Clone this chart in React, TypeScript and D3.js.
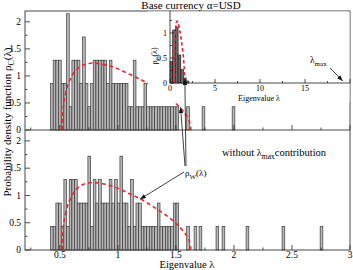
import React from "react";
import * as d3 from "d3";

// histogram of eigenvalues, bins of width 0.023 starting at 0.42 (counts; 1 count = 0.43 density)
const binStart = 0.42;
const binWidth = 0.023;
const countDensity = 0.43;
const topCounts = [
  2, 3, 3, 3, 2, 2, 5, 1, 3, 3, 3, 2, 4, 2, 1, 2, 3, 3, 3, 3, 3, 2, 3, 2, 2, 2,
  2, 2, 2, 1, 1, 3, 1, 1, 1, 2, 1, 1, 1, 1, 1, 1, 1, 1, 1, 1, 1, 1, 0, 0, 0, 1,
];
const bottomCounts = [
  1, 1, 2, 2, 1, 3, 1, 3, 3, 3, 2, 2, 2, 2, 4, 1, 3, 2, 3, 2, 2, 2, 3, 2, 3, 2,
  4, 2, 2, 1, 3, 1, 2, 2, 1, 1, 1, 1, 1, 1, 2, 1, 1, 1, 1, 1, 2, 2, 0, 0, 0, 1,
];
// isolated eigenvalues past the bulk (left edge of bar, one count each)
const topTail = [1.726, 1.985];
const bottomTail = [1.657, 1.7, 1.846, 1.898, 2.105, 2.415, 2.743];

// Marchenko-Pastur density rho_W(lambda)
const mpLambda = [0.52, 0.53, 0.55, 0.6, 0.65, 0.7, 0.75, 0.8, 0.85, 0.9, 1.0, 1.1, 1.2, 1.3, 1.4, 1.5, 1.55, 1.6, 1.62, 1.63];
const mpDensity = [0, 0.41, 0.67, 0.98, 1.13, 1.2, 1.23, 1.24, 1.22, 1.2, 1.13, 1.03, 0.93, 0.8, 0.66, 0.49, 0.38, 0.23, 0.13, 0];

// inset histogram (full spectrum)
const insetStart = [0, 0.3, 0.6, 0.9, 1.2, 1.5, 1.8];
const insetDensity = [0.43, 1.06, 1.12, 0.56, 0.27, 0.1, 0.04];
const insetWidth = 0.3;
const lambdaMax = 19.2;

const xTickLabels = [0.5, 1, 1.5, 2, 2.5, 3];
const yTickLabels = [0, 0.5, 1, 1.5, 2];
const insetXTicks = [0, 5, 10, 15];
const insetYTicks = [0, 0.5, 1];

const W = 353;
const H = 270;
const FONT = "'Liberation Serif', 'DejaVu Serif', serif";
const RED = "#ee2430";

const x = d3.scaleLinear().domain([0.2, 3]).range([25, 350]);
const yTop = d3.scaleLinear().domain([0, 2.2]).range([130, 11]);
const yBot = d3.scaleLinear().domain([0, 2.2]).range([250, 130]);
const xIn = d3.scaleLinear().domain([0, 20]).range([170, 350]);
const yIn = d3.scaleLinear().domain([0, 1.44]).range([83, 11]);

const toBars = (counts: number[], tail: number[]) => [
  ...counts.map((c, i) => ({ x0: binStart + i * binWidth, d: c * countDensity })),
  ...tail.map((l) => ({ x0: l, d: countDensity })),
].filter((b) => b.d > 0);

const mpPoints: [number, number][] = mpLambda.map((l, i) => [l, mpDensity[i]]);

const Panel = ({ y, counts, tail, labels }: any) => {
  const bars = toBars(counts, tail);
  const line = d3.line<[number, number]>().x((d) => x(d[0])).y((d) => y(d[1])).curve(d3.curveMonotoneX);
  const y0 = y(0);
  return (
    <g>
      {bars.map((b, i) => (
        <rect key={i} x={x(b.x0)} y={y(b.d)} width={x(b.x0 + binWidth) - x(b.x0)} height={y0 - y(b.d)}
          fill="#b8b8b8" stroke="#3a3a3a" strokeWidth={0.7} />
      ))}
      <path d={line(mpPoints) || ""} fill="none" stroke={RED} strokeWidth={1.6} strokeDasharray="4,3" />
      {d3.range(0.25, 3.01, 0.25).map((t) => {
        const major = Math.abs(t * 2 - Math.round(t * 2)) < 1e-6;
        return <line key={"x" + t} x1={x(t)} x2={x(t)} y1={y0} y2={y0 - (major ? 5 : 2.5)} stroke="#222" strokeWidth={0.8} />;
      })}
      {d3.range(0, 2.01, 0.25).map((t) => {
        const major = Math.abs(t * 2 - Math.round(t * 2)) < 1e-6;
        return <line key={"y" + t} x1={25} x2={25 + (major ? 5 : 2.5)} y1={y(t)} y2={y(t)} stroke="#222" strokeWidth={0.8} />;
      })}
      {yTickLabels.map((t) => (
        <text key={"l" + t} x={21} y={y(t) + 3.3} textAnchor="end" fontSize={9.5}>{t}</text>
      ))}
      {labels && xTickLabels.map((t) => (
        <text key={"xl" + t} x={x(t)} y={257.5} textAnchor="middle" fontSize={9.5}>{t}</text>
      ))}
    </g>
  );
};

export default function App() {
  const inLine = d3.line<[number, number]>().x((d) => xIn(d[0])).y((d) => yIn(d[1])).curve(d3.curveMonotoneX);
  return (
    <div>
      <svg width={W} height={H} style={{ position: "absolute", left: 0, top: 0, background: "#fff" }} fontFamily={FONT}>
        <defs>
          <marker id="arr" viewBox="0 0 8 6" refX={8} refY={3} markerWidth={6} markerHeight={4.5} orient="auto" markerUnits="userSpaceOnUse">
            <path d="M0,0 L8,3 L0,6 z" fill="#111" />
          </marker>
        </defs>
        <text x={191} y={9} textAnchor="middle" fontSize={11}>Base currency α=USD</text>

        <Panel y={yTop} counts={topCounts} tail={topTail} labels={false} />
        <Panel y={yBot} counts={bottomCounts} tail={bottomTail} labels={true} />

        {/* frame */}
        <rect x={25} y={11} width={325} height={239} fill="none" stroke="#333" strokeWidth={0.9} />
        <line x1={25} x2={350} y1={130} y2={130} stroke="#333" strokeWidth={0.9} />

        {/* inset */}
        <rect x={148} y={11.5} width={201.5} height={91} fill="#fff" />
        {insetStart.map((s, i) => (
          <rect key={i} x={xIn(s)} y={yIn(insetDensity[i])} width={xIn(s + insetWidth) - xIn(s)} height={yIn(0) - yIn(insetDensity[i])}
            fill="#6a6a6a" stroke="#111" strokeWidth={0.6} />
        ))}
        <path d={inLine(mpPoints) || ""} fill="none" stroke={RED} strokeWidth={1.6} strokeDasharray="3.5,2.5" />
        <polyline points={`${xIn(0)},${yIn(1.44)} ${xIn(0)},${yIn(0)} ${xIn(20)},${yIn(0)}`} fill="none" stroke="#333" strokeWidth={0.9} />
        {d3.range(0, 20.01, 2.5).map((t) => (
          <line key={"ix" + t} x1={xIn(t)} x2={xIn(t)} y1={yIn(0)} y2={yIn(0) - (t % 5 === 0 ? 4 : 2)} stroke="#222" strokeWidth={0.8} />
        ))}
        {d3.range(0, 1.26, 0.25).map((t) => (
          <line key={"iy" + t} x1={xIn(0)} x2={xIn(0) + (t % 0.5 === 0 ? 4 : 2)} y1={yIn(t)} y2={yIn(t)} stroke="#222" strokeWidth={0.8} />
        ))}
        {insetXTicks.map((t) => (
          <text key={"ixl" + t} x={xIn(t)} y={91} textAnchor="middle" fontSize={8}>{t}</text>
        ))}
        {insetYTicks.map((t) => (
          <text key={"iyl" + t} x={167} y={yIn(t) + 2.8} textAnchor="end" fontSize={8}>{t}</text>
        ))}
        <text x={259} y={101} textAnchor="middle" fontSize={8}>Eigenvalue λ</text>
        <text transform="translate(157,56) rotate(-90)" textAnchor="middle" fontSize={8}>
          ρ<tspan dy={2.5} fontSize={6}>C</tspan><tspan dy={-2.5}>(λ)</tspan>
        </text>
        <text x={310} y={63} fontSize={9.5}>λ<tspan dy={3} fontSize={7}>max</tspan></text>
        <line x1={330} y1={68} x2={xIn(lambdaMax)} y2={yIn(0) - 2} stroke="#111" strokeWidth={0.8} markerEnd="url(#arr)" />

        {/* labels */}
        <text transform="translate(11,122) rotate(-90)" textAnchor="middle" fontSize={11}>
          Probability density function ρ<tspan dy={2.5} fontSize={8}>C</tspan><tspan dy={-2.5}>(λ)</tspan>
        </text>
        <text x={187} y={267.5} textAnchor="middle" fontSize={10.5}>Eigenvalue λ</text>
        <text x={222} y={156} fontSize={10.5}>
          without λ<tspan dy={3} fontSize={7.5}>max</tspan><tspan dy={-3}>contribution</tspan>
        </text>
        <text x={185} y={176} fontSize={9}>
          ρ<tspan dy={2.5} fontSize={7}>W</tspan><tspan dy={-2.5}>(λ)</tspan>
        </text>
        <line x1={184} y1={172} x2={x(1.19)} y2={yBot(0.93)} stroke="#111" strokeWidth={0.8} markerEnd="url(#arr)" />
        <line x1={185} y1={166} x2={x(1.54)} y2={yTop(0.42)} stroke="#111" strokeWidth={0.8} markerEnd="url(#arr)" />
        <line x1={186} y1={166} x2={xIn(1.65)} y2={yIn(0.08)} stroke="#111" strokeWidth={0.8} markerEnd="url(#arr)" />
      </svg>
    </div>
  );
}
